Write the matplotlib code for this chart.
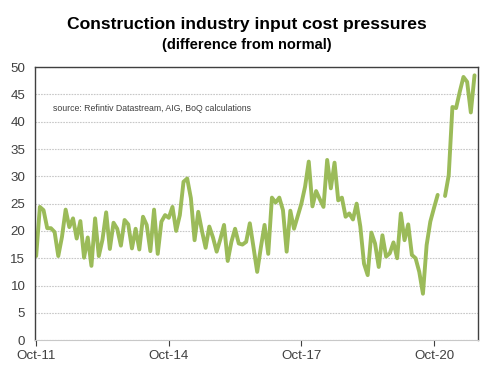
"""Construction industry input cost pressures -- line chart, monthly, Oct-11 onwards."""

import numpy as np
import matplotlib

matplotlib.use("Agg")
import matplotlib.pyplot as plt

plt.rcParams["font.family"] = ["Liberation Sans", "DejaVu Sans"]

# --------------------------------------------------------------------------- #
# data: months since Oct-11 (NaN = missing month)
# --------------------------------------------------------------------------- #
values = [
    15.4, 24.4, 23.8, 20.5, 20.5, 19.8, 15.4, 18.9, 23.9, 20.7,   # 0-9
    22.3, 18.6, 21.8, 15.1, 18.8, 13.6, 22.3, 15.4, 18.4, 23.4,   # 10-19
    16.7, 21.5, 20.4, 17.3, 22.0, 21.2, 16.8, 20.4, 16.6, 22.6,   # 20-29
    21.1, 16.3, 23.9, 15.8, 21.7, 22.9, 22.4, 24.4, 20.0, 22.9,   # 30-39
    29.0, 29.6, 26.0, 18.3, 23.5, 20.0, 16.9, 20.8, 18.8, 16.2,   # 40-49
    18.5, 21.1, 14.5, 18.0, 20.4, 17.7, 17.5, 18.0, 21.4, 17.0,   # 50-59
    12.5, 17.0, 21.1, 15.8, 26.1, 25.2, 26.1, 23.8, 16.2, 23.7,   # 60-69
    20.4, 22.7, 25.0, 28.1, 32.7, 24.5, 27.3, 25.8, 24.4, 33.0,   # 70-79
    27.8, 32.5, 25.6, 26.1, 22.6, 23.2, 22.1, 25.0, 20.8, 14.0,   # 80-89
    11.9, 19.7, 17.7, 13.4, 19.2, 15.3, 15.9, 17.9, 15.0, 23.2,   # 90-99
    18.3, 21.2, 15.6, 15.0, 12.5, 8.5, 17.4, 21.7, 24.2, 26.6,    # 100-109
    np.nan, 26.4, 30.2, 42.7, 42.5, 45.5, 48.2, 47.3, 41.7, 48.5,  # 110-119
]
tick_months = [0, 36, 72, 108]
tick_labels = ["Oct-11", "Oct-14", "Oct-17", "Oct-20"]
y_ticks = list(range(0, 55, 5))

title = "Construction industry input cost pressures"
subtitle = "(difference from normal)"
source = "source: Refintiv Datastream, AIG, BoQ calculations"

# --------------------------------------------------------------------------- #
# plot
# --------------------------------------------------------------------------- #
fig = plt.figure(figsize=(4.94, 3.75), dpi=100)
ax = fig.add_axes([0.071, 0.093, 0.897, 0.728])

months = np.arange(len(values))
ax.plot(months, values, color="#9BBB59", linewidth=2.8, solid_joinstyle="round",
        solid_capstyle="round")

ax.set_xlim(-0.3, 120)
ax.set_ylim(0, 50)
ax.set_yticks(y_ticks)
ax.set_xticks(tick_months)
ax.set_xticklabels(tick_labels)

ax.grid(axis="y", color="#C8C8C8", linestyle=(0, (1.5, 1)), linewidth=0.8)
ax.set_axisbelow(True)

for side in ("left", "right", "top"):
    ax.spines[side].set_color("#404040")
    ax.spines[side].set_linewidth(1.0)
ax.spines["bottom"].set_color("#C8C8C8")
ax.spines["bottom"].set_linewidth(0.8)

ax.tick_params(axis="both", labelsize=9.6, colors="#404040", labelcolor="#404040")
ax.tick_params(axis="y", length=0, pad=7)
ax.tick_params(axis="x", length=4, width=0.8, pad=3)

fig.text(0.5, 0.935, title, ha="center", va="center", fontsize=12.6,
         fontweight="bold")
fig.text(0.5, 0.88, subtitle, ha="center", va="center", fontsize=10.5,
         fontweight="bold")
ax.text(0.04, 0.85, source, transform=ax.transAxes, fontsize=6.3,
        color="#404040", va="center")

fig.savefig("out.png", dpi=100)
